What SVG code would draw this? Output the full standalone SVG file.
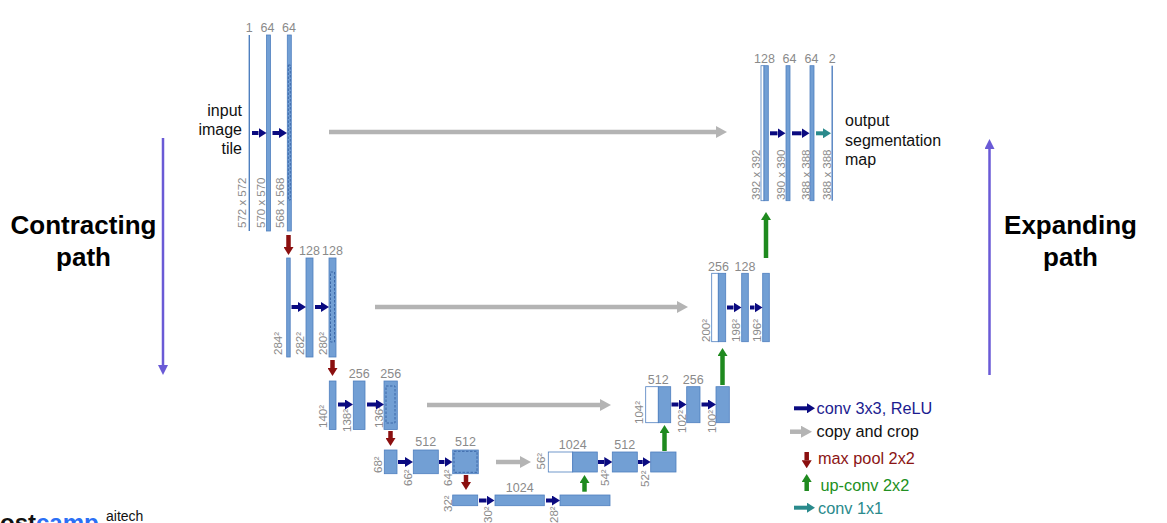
<svg xmlns="http://www.w3.org/2000/svg" width="1167" height="523" viewBox="0 0 1167 523">
<defs>
<style>
.fm{fill:#729fd4;stroke:#4f7fbf;stroke-width:0.8}
.ln{fill:#4f7fbf}
.wh{fill:#fff;stroke:#4f7fbf;stroke-width:0.8}
.dash{fill:none;stroke:#3c68a8;stroke-width:1;stroke-dasharray:2.5,1.5}
.n{font-family:"Liberation Sans",Arial,sans-serif;font-size:12.5px;fill:#8a8a8a;text-anchor:middle}
.r{font-family:"Liberation Sans",Arial,sans-serif;font-size:11.5px;fill:#8a8a8a}
.t{font-family:"Liberation Sans",Arial,sans-serif;font-size:16px;fill:#111}
.big{font-family:"Liberation Sans",Arial,sans-serif;font-size:26px;font-weight:bold;fill:#000;text-anchor:middle}
.lg{font-family:"Liberation Sans",Arial,sans-serif;font-size:16.3px}
.conv{stroke:#0a0a80;stroke-width:4}
.copy{stroke:#b4b4b4;stroke-width:4.5}
.pool{stroke:#8b0f0f;stroke-width:4.5}
.up{stroke:#1f8a1f;stroke-width:4.5}
.c11{stroke:#2a8a8c;stroke-width:4}
.pp{stroke:#6a5ad6;stroke-width:2.5}
</style>
<marker id="hConv" markerUnits="userSpaceOnUse" markerWidth="8" markerHeight="10" viewBox="0 0 8 10" refX="0" refY="5" orient="auto"><path d="M0,0L8,5L0,10Z" fill="#0a0a80"/></marker>
<marker id="hCopy" markerUnits="userSpaceOnUse" markerWidth="11" markerHeight="12" viewBox="0 0 11 12" refX="0" refY="6" orient="auto"><path d="M0,0L11,6L0,12Z" fill="#b4b4b4"/></marker>
<marker id="hPool" markerUnits="userSpaceOnUse" markerWidth="8" markerHeight="10" viewBox="0 0 8 10" refX="0" refY="5" orient="auto"><path d="M0,0L8,5L0,10Z" fill="#8b0f0f"/></marker>
<marker id="hUp" markerUnits="userSpaceOnUse" markerWidth="8" markerHeight="10" viewBox="0 0 8 10" refX="0" refY="5" orient="auto"><path d="M0,0L8,5L0,10Z" fill="#1f8a1f"/></marker>
<marker id="hC11" markerUnits="userSpaceOnUse" markerWidth="8" markerHeight="10" viewBox="0 0 8 10" refX="0" refY="5" orient="auto"><path d="M0,0L8,5L0,10Z" fill="#2a8a8c"/></marker>
<marker id="hPath" markerUnits="userSpaceOnUse" markerWidth="10" markerHeight="10" viewBox="0 0 10 10" refX="0" refY="5" orient="auto"><path d="M0,0L10,5L0,10Z" fill="#6a5ad6"/></marker>
</defs>
<rect width="1167" height="523" fill="#fff"/>

<!-- level 1 -->
<g id="L1a"><rect class="ln" x="248.6" y="35" width="1.4" height="196"/><text class="n" x="249.3" y="32">1</text><text class="r" transform="translate(245.5,228) rotate(-90)">572 x 572</text></g>
<g id="L1b"><rect class="fm" x="266.5" y="35" width="4" height="196"/><text class="n" x="267.5" y="32">64</text><text class="r" transform="translate(264.5,228) rotate(-90)">570 x 570</text></g>
<g id="L1c"><rect class="fm" x="287.3" y="35" width="4" height="196"/><rect class="dash" x="288.3" y="65" width="2" height="135"/><text class="n" x="289" y="32">64</text><text class="r" transform="translate(284,228) rotate(-90)">568 x 568</text></g>
<g id="input-label"><text class="t" text-anchor="end"><tspan x="242" y="116">input</tspan><tspan x="242" y="135">image</tspan><tspan x="242" y="154">tile</tspan></text></g>

<!-- level 2 -->
<g id="L2a"><rect class="fm" x="286.7" y="258" width="3.5" height="99"/><text class="r" transform="translate(282,355) rotate(-90)">284²</text></g>
<g id="L2b"><rect class="fm" x="306" y="258" width="7" height="99"/><text class="n" x="309.5" y="255">128</text><text class="r" transform="translate(304,355) rotate(-90)">282²</text></g>
<g id="L2c"><rect class="fm" x="329" y="258" width="7" height="99"/><rect class="dash" x="330.5" y="272" width="4" height="70"/><text class="n" x="332.5" y="255">128</text><text class="r" transform="translate(326.5,355) rotate(-90)">280²</text></g>

<!-- level 3 -->
<g id="L3a"><rect class="fm" x="329.3" y="381" width="6.7" height="48.5"/><text class="r" transform="translate(327,428) rotate(-90)">140²</text></g>
<g id="L3b"><rect class="fm" x="353.3" y="381" width="11.7" height="48.5"/><text class="n" x="359.3" y="378">256</text><text class="r" transform="translate(351,432) rotate(-90)">138²</text></g>
<g id="L3c"><rect class="fm" x="384" y="381" width="13.3" height="48.5"/><rect class="dash" x="386" y="386" width="9" height="37"/><text class="n" x="390.7" y="378">256</text><text class="r" transform="translate(382.5,428) rotate(-90)">136²</text></g>

<!-- level 4 -->
<g id="L4a"><rect class="fm" x="384.3" y="450" width="12.7" height="23.7"/><text class="r" transform="translate(382,473) rotate(-90)">68²</text></g>
<g id="L4b"><rect class="fm" x="413.3" y="450" width="25" height="23.7"/><text class="n" x="425.8" y="446">512</text><text class="r" transform="translate(411.5,486) rotate(-90)">66²</text></g>
<g id="L4c"><rect class="fm" x="452.7" y="450" width="25.6" height="23.7"/><rect class="dash" x="454" y="451.3" width="23" height="21"/><text class="n" x="465.5" y="446">512</text><text class="r" transform="translate(451.5,486) rotate(-90)">64²</text></g>

<!-- bottom -->
<g id="L5a"><rect class="fm" x="452.7" y="495" width="25" height="10.7"/><text class="r" transform="translate(451.5,512) rotate(-90)">32²</text></g>
<g id="L5b"><rect class="fm" x="495" y="495" width="49.3" height="10.7"/><text class="n" x="519.7" y="491.5">1024</text><text class="r" transform="translate(491.5,523) rotate(-90)">30²</text></g>
<g id="L5c"><rect class="fm" x="560" y="495" width="50" height="10.7"/><text class="r" transform="translate(558,523) rotate(-90)">28²</text></g>

<!-- right level 4 -->
<g id="R4a"><rect class="wh" x="548.3" y="452" width="24.4" height="20"/><rect class="fm" x="572.7" y="452" width="24.6" height="20"/><text class="n" x="572.7" y="448.5">1024</text><text class="r" transform="translate(545,469.5) rotate(-90)">56²</text></g>
<g id="R4b"><rect class="fm" x="612.3" y="452" width="25" height="20"/><text class="n" x="624.8" y="448.5">512</text><text class="r" transform="translate(609,486) rotate(-90)">54²</text></g>
<g id="R4c"><rect class="fm" x="650.7" y="452" width="25.3" height="20"/><text class="r" transform="translate(649,487) rotate(-90)">52²</text></g>

<!-- right level 3 -->
<g id="R3a"><rect class="wh" x="645.7" y="386.7" width="12.6" height="36"/><rect class="fm" x="658.3" y="386.7" width="12.4" height="36"/><text class="n" x="658.3" y="384">512</text><text class="r" transform="translate(643,424) rotate(-90)">104²</text></g>
<g id="R3b"><rect class="fm" x="686.7" y="386.7" width="13.3" height="36"/><text class="n" x="693.3" y="384">256</text><text class="r" transform="translate(686,433) rotate(-90)">102²</text></g>
<g id="R3c"><rect class="fm" x="716" y="386.7" width="13.3" height="36"/><text class="r" transform="translate(715.5,433) rotate(-90)">100²</text></g>

<!-- right level 2 -->
<g id="R2a"><rect class="wh" x="711.7" y="273.3" width="6.6" height="68.4"/><rect class="fm" x="718.3" y="273.3" width="7.4" height="68.4"/><text class="n" x="718.5" y="271">256</text><text class="r" transform="translate(709.5,342) rotate(-90)">200²</text></g>
<g id="R2b"><rect class="fm" x="741.7" y="273.3" width="6.6" height="68.4"/><text class="n" x="745" y="271">128</text><text class="r" transform="translate(739.5,342) rotate(-90)">198²</text></g>
<g id="R2c"><rect class="fm" x="762.7" y="273.3" width="6.6" height="68.4"/><text class="r" transform="translate(760.5,342) rotate(-90)">196²</text></g>

<!-- right level 1 -->
<g id="R1a"><rect class="wh" x="761" y="65.7" width="3" height="135"/><rect class="fm" x="764" y="65.7" width="4.3" height="135"/><text class="n" x="764.5" y="62.5">128</text><text class="r" transform="translate(759.5,200) rotate(-90)">392 x 392</text></g>
<g id="R1b"><rect class="fm" x="786" y="65.7" width="4" height="135"/><text class="n" x="789.5" y="62.5">64</text><text class="r" transform="translate(784.5,200) rotate(-90)">390 x 390</text></g>
<g id="R1c"><rect class="fm" x="810" y="65.7" width="4" height="135"/><text class="n" x="811.5" y="62.5">64</text><text class="r" transform="translate(809.5,200) rotate(-90)">388 x 388</text></g>
<g id="R1d"><rect class="ln" x="831.5" y="65.7" width="1.4" height="135"/><text class="n" x="832.3" y="62.5">2</text><text class="r" transform="translate(830.5,200) rotate(-90)">388 x 388</text></g>
<g id="output-label"><text class="t"><tspan x="845" y="126">output</tspan><tspan x="845" y="145.5">segmentation</tspan><tspan x="845" y="165">map</tspan></text></g>

<!-- connectors -->
<g id="connectors" fill="none">
<line class="conv" x1="252" y1="133" x2="258.5" y2="133" marker-end="url(#hConv)"/>
<line class="conv" x1="272.5" y1="133" x2="279" y2="133" marker-end="url(#hConv)"/>
<line class="conv" x1="291.5" y1="307" x2="298" y2="307" marker-end="url(#hConv)"/>
<line class="conv" x1="315" y1="307" x2="321" y2="307" marker-end="url(#hConv)"/>
<line class="conv" x1="338" y1="404.5" x2="345" y2="404.5" marker-end="url(#hConv)"/>
<line class="conv" x1="367" y1="404.5" x2="376" y2="404.5" marker-end="url(#hConv)"/>
<line class="conv" x1="398" y1="462" x2="405" y2="462" marker-end="url(#hConv)"/>
<line class="conv" x1="439" y1="462" x2="444.5" y2="462" marker-end="url(#hConv)"/>
<line class="conv" x1="479" y1="500.5" x2="486.5" y2="500.5" marker-end="url(#hConv)"/>
<line class="conv" x1="546" y1="500.5" x2="552" y2="500.5" marker-end="url(#hConv)"/>
<line class="conv" x1="598" y1="462" x2="604.3" y2="462" marker-end="url(#hConv)"/>
<line class="conv" x1="638" y1="462" x2="642.7" y2="462" marker-end="url(#hConv)"/>
<line class="conv" x1="671.5" y1="404.5" x2="678.5" y2="404.5" marker-end="url(#hConv)"/>
<line class="conv" x1="701.5" y1="404.5" x2="708" y2="404.5" marker-end="url(#hConv)"/>
<line class="conv" x1="727" y1="307.5" x2="733.5" y2="307.5" marker-end="url(#hConv)"/>
<line class="conv" x1="750" y1="307.5" x2="754.5" y2="307.5" marker-end="url(#hConv)"/>
<line class="conv" x1="770" y1="133.3" x2="777.5" y2="133.3" marker-end="url(#hConv)"/>
<line class="conv" x1="792" y1="133.3" x2="801.5" y2="133.3" marker-end="url(#hConv)"/>
<line class="c11" x1="816" y1="133.3" x2="823" y2="133.3" marker-end="url(#hC11)"/>
<line class="copy" x1="329" y1="132" x2="716" y2="132" marker-end="url(#hCopy)"/>
<line class="copy" x1="375" y1="307" x2="677" y2="307" marker-end="url(#hCopy)"/>
<line class="copy" x1="427" y1="405" x2="600" y2="405" marker-end="url(#hCopy)"/>
<line class="copy" x1="496" y1="462" x2="520" y2="462" marker-end="url(#hCopy)"/>
<line class="pool" x1="288.5" y1="235" x2="288.5" y2="247" marker-end="url(#hPool)"/>
<line class="pool" x1="332.5" y1="360" x2="332.5" y2="368" marker-end="url(#hPool)"/>
<line class="pool" x1="390.5" y1="431" x2="390.5" y2="438" marker-end="url(#hPool)"/>
<line class="pool" x1="466" y1="475" x2="466" y2="482" marker-end="url(#hPool)"/>
<line class="up" x1="584.5" y1="491.7" x2="584.5" y2="483" marker-end="url(#hUp)"/>
<line class="up" x1="664.5" y1="451" x2="664.5" y2="433" marker-end="url(#hUp)"/>
<line class="up" x1="722.5" y1="385" x2="722.5" y2="356" marker-end="url(#hUp)"/>
<line class="up" x1="766" y1="258" x2="766" y2="220" marker-end="url(#hUp)"/>
<line class="pp" x1="163" y1="138" x2="163" y2="365" marker-end="url(#hPath)"/>
<line class="pp" x1="989.5" y1="375" x2="989.5" y2="149" marker-end="url(#hPath)"/>
</g>

<g id="contracting-label"><text class="big"><tspan x="83.5" y="234">Contracting</tspan><tspan x="83.5" y="266">path</tspan></text></g>
<g id="expanding-label"><text class="big"><tspan x="1070.5" y="234">Expanding</tspan><tspan x="1070.5" y="266">path</tspan></text></g>

<!-- legend -->
<g id="legend">
<line class="conv" x1="794" y1="408.3" x2="807" y2="408.3" marker-end="url(#hConv)"/>
<text class="lg" x="816.5" y="414" fill="#1c1c90">conv 3x3, ReLU</text>
<line class="copy" x1="790" y1="431.7" x2="801" y2="431.7" marker-end="url(#hCopy)"/>
<text class="lg" x="816.5" y="437" fill="#111">copy and crop</text>
<line class="pool" x1="806.7" y1="452" x2="806.7" y2="460.3" marker-end="url(#hPool)"/>
<text class="lg" x="818" y="464" fill="#8b1414">max pool 2x2</text>
<line class="up" x1="806.7" y1="491" x2="806.7" y2="482" marker-end="url(#hUp)"/>
<text class="lg" x="820.5" y="491" fill="#229022">up-conv 2x2</text>
<line class="c11" x1="794" y1="507.7" x2="807" y2="507.7" marker-end="url(#hC11)"/>
<text class="lg" x="818" y="513.5" fill="#2a8a8c">conv 1x1</text>
</g>

<g id="logo">
<text x="0" y="531" font-family="Liberation Sans, Arial, sans-serif" font-size="24" font-weight="bold"><tspan fill="#111">ost</tspan><tspan fill="#2b6ff5">camp</tspan></text>
<text x="106" y="521" font-family="Liberation Sans, Arial, sans-serif" font-size="14" fill="#111">aitech</text>
</g>
</svg>
